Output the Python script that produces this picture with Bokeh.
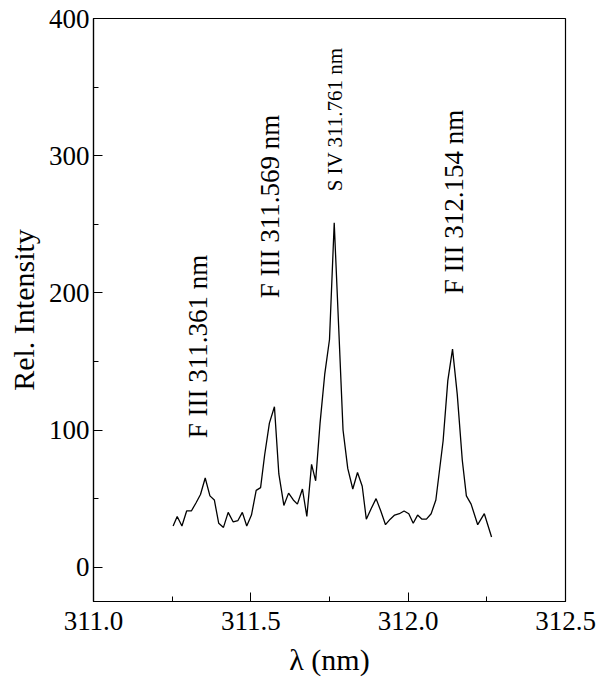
import numpy as np
from bokeh.plotting import figure
from bokeh.models import ColumnDataSource, Range1d, FixedTicker, NumeralTickFormatter, LinearAxis
from bokeh.core.properties import value
from bokeh.embed import file_html
from bokeh.resources import INLINE

# ---- data ----
wavelength = [311.253, 311.266, 311.281, 311.296, 311.311, 311.326, 311.340, 311.355,
              311.370, 311.384, 311.398, 311.413, 311.428, 311.444, 311.459, 311.473,
              311.487, 311.502, 311.517, 311.531, 311.544, 311.559, 311.575, 311.589,
              311.605, 311.620, 311.635, 311.648, 311.664, 311.678, 311.693, 311.706,
              311.720, 311.735, 311.750, 311.765, 311.779, 311.793, 311.808, 311.824,
              311.839, 311.854, 311.867, 311.883, 311.898, 311.913, 311.928, 311.943,
              311.957, 311.972, 311.987, 312.002, 312.016, 312.030, 312.044, 312.058,
              312.073, 312.088, 312.111, 312.126, 312.141, 312.156, 312.172, 312.185,
              312.200, 312.221, 312.242, 312.265]
intensity = [30, 37, 30, 41, 41, 47, 53, 65,
             52, 49, 32, 29, 40, 33, 34, 40,
             30, 38, 56, 58, 82, 105, 117, 68,
             45, 54, 49, 46, 57, 37, 75, 63,
             105, 141, 166, 251, 176, 100, 72, 57,
             69, 59, 35, 43, 50, 41, 31, 35,
             38, 39, 41, 39, 32, 38, 35, 35,
             39, 49, 92, 136, 159, 126, 78, 52,
             46, 31, 39, 22]

line_labels = ["F III 311.361 nm", "F III 311.569 nm", "S IV 311.761 nm", "F III 312.154 nm"]
label_x = [311.332, 311.562, 311.769, 312.147]
label_y = [94, 196, 274, 199]
label_sizes = ["27px", "27px", "21px", "27px"]

x_ticks = [311.0, 311.5, 312.0, 312.5]
y_ticks = [0, 100, 200, 300, 400]
x_title = "λ (nm)"
y_title = "Rel. Intensity"

FONT = "Liberation Serif"

p = figure(output_backend="svg", toolbar_location=None,
           x_range=Range1d(311.0, 312.5), y_range=Range1d(-25, 400),
           frame_width=472, frame_height=583,
           min_border_left=93, min_border_right=31, min_border_top=18, min_border_bottom=76)

p.xgrid.visible = False
p.ygrid.visible = False
p.outline_line_color = "black"
p.outline_line_width = 1.2
p.background_fill_color = "white"
p.border_fill_color = "white"

p.line(wavelength, intensity, line_color="black", line_width=1.3)

src = ColumnDataSource(dict(x=label_x, y=label_y, t=line_labels, s=label_sizes))
p.text(x="x", y="y", text="t", source=src, angle=np.pi / 2,
       text_align="left", text_baseline="middle",
       text_font=value(FONT), text_font_size="s", text_color="black")

for ax in (p.xaxis[0], p.yaxis[0]):
    ax.axis_line_color = "black"
    ax.axis_line_width = 1.2
    ax.major_tick_in = 9
    ax.major_tick_out = 0
    ax.minor_tick_in = 5
    ax.minor_tick_out = 0
    ax.major_tick_line_color = "black"
    ax.minor_tick_line_color = "black"
    ax.major_label_text_font = FONT
    ax.major_label_text_font_size = "27px"
    ax.major_label_text_color = "black"
    ax.axis_label_text_font = FONT
    ax.axis_label_text_font_size = "30px"
    ax.axis_label_text_font_style = "normal"
    ax.axis_label_text_color = "black"

p.xaxis[0].ticker = FixedTicker(ticks=x_ticks, minor_ticks=[311.25, 311.75, 312.25])
p.xaxis[0].formatter = NumeralTickFormatter(format="0.0")
p.xaxis[0].axis_label = x_title
p.xaxis[0].major_label_standoff = 10
p.xaxis[0].axis_label_standoff = 10

p.yaxis[0].ticker = FixedTicker(ticks=y_ticks, minor_ticks=[50, 150, 250, 350])
p.yaxis[0].major_label_standoff = 4

# a bare second left axis that only carries the title, centred a little above the frame middle
title_axis = LinearAxis(bounds=(10, 400), ticker=FixedTicker(ticks=[]),
                        axis_line_color=None, major_tick_line_color=None,
                        minor_tick_line_color=None, major_label_text_font_size="0px",
                        major_tick_in=0, major_tick_out=0, minor_tick_in=0, minor_tick_out=0,
                        axis_label=y_title, axis_label_standoff=6,
                        axis_label_text_font=FONT, axis_label_text_font_size="30px",
                        axis_label_text_font_style="normal", axis_label_text_color="black")
p.add_layout(title_axis, "left")

open("out.html", "w").write(file_html(p, INLINE))
